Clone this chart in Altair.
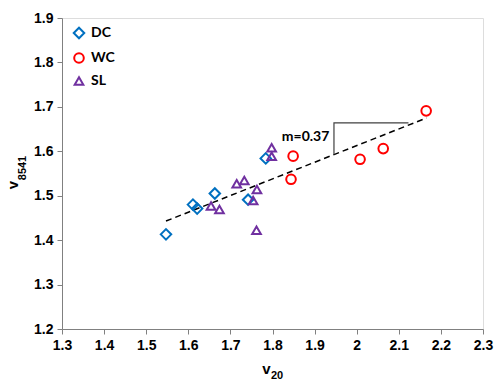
import altair as alt
import pandas as pd

series = ["DC", "WC", "SL"]
colors = ["#0070C0", "#FF0000", "#7030A0"]
shapes = ["diamond", "circle", "triangle-up"]

dc_x = [1.547, 1.611, 1.621, 1.663, 1.742, 1.784]
dc_y = [1.413, 1.480, 1.471, 1.505, 1.491, 1.584]
wc_x = [1.849, 1.844, 2.008, 2.063, 2.165]
wc_y = [1.589, 1.537, 1.582, 1.606, 1.691]
sl_x = [1.798, 1.798, 1.715, 1.733, 1.763, 1.754, 1.654, 1.674, 1.762]
sl_y = [1.608, 1.589, 1.527, 1.534, 1.514, 1.489, 1.477, 1.469, 1.422]

fit_x = [1.547, 2.166]
fit_y = [1.443, 1.675]

slope_x = [1.946, 1.946, 2.123]
slope_y = [1.593, 1.664, 1.664]

label_text = "m=0.37"
label_x = 1.935
label_y = 1.633

x_ticks = [1.3, 1.4, 1.5, 1.6, 1.7, 1.8, 1.9, 2.0, 2.1, 2.2, 2.3]
y_ticks = [1.2, 1.3, 1.4, 1.5, 1.6, 1.7, 1.8, 1.9]

x_title_main, x_title_sub = "v", "20"
y_title_main, y_title_sub = "v", "8541"

rows = []
for name, xs, ys in [("DC", dc_x, dc_y), ("WC", wc_x, wc_y), ("SL", sl_x, sl_y)]:
    for a, b in zip(xs, ys):
        rows.append({"x": a, "y": b, "series": name})
pts = pd.DataFrame(rows)

fit = pd.DataFrame({"x": fit_x, "y": fit_y})
slope = pd.DataFrame({"x": slope_x, "y": slope_y, "o": list(range(len(slope_x)))})
lab = pd.DataFrame({"x": [label_x], "y": [label_y], "t": [label_text]})

xscale = alt.Scale(domain=[1.3, 2.3], nice=False, zero=False)
yscale = alt.Scale(domain=[1.2, 1.9], nice=False, zero=False)

AX = "Liberation Sans"
xaxis = alt.Axis(values=x_ticks, format=".1~f", grid=False, domainColor="#808080",
                 tickColor="#808080", tickSize=5, labelFont=AX, labelFontSize=14,
                 labelFontWeight="bold", labelColor="#000", title=None,
                 labelPadding=4, labelFlush=False)
yaxis = alt.Axis(values=y_ticks, format=".1f", grid=False, domainColor="#808080",
                 tickColor="#808080", tickSize=5, labelFont=AX, labelFontSize=14,
                 labelFontWeight="bold", labelColor="#000", title=None, labelPadding=4)

points = alt.Chart(pts).mark_point(filled=False, strokeWidth=2, opacity=1).encode(
    x=alt.X("x:Q", scale=xscale, axis=xaxis),
    y=alt.Y("y:Q", scale=yscale, axis=yaxis),
    color=alt.Color("series:N", scale=alt.Scale(domain=series, range=colors),
                    legend=alt.Legend(title=None, orient="none", legendX=10, legendY=8,
                                      labelFont="Lato", labelFontSize=14,
                                      labelFontWeight="bold", labelColor="#000",
                                      symbolSize=80, symbolStrokeWidth=2,
                                      rowPadding=6, labelOffset=5)),
    shape=alt.Shape("series:N", scale=alt.Scale(domain=series, range=shapes)),
    size=alt.Size("series:N", scale=alt.Scale(domain=series, range=[110, 75, 95]), legend=None),
)

fitline = alt.Chart(fit).mark_line(color="#000", strokeDash=[6, 4], strokeWidth=1.5).encode(
    x=alt.X("x:Q", scale=xscale), y=alt.Y("y:Q", scale=yscale))

slopeline = alt.Chart(slope).mark_line(color="#404040", strokeWidth=1.2).encode(
    x=alt.X("x:Q", scale=xscale), y=alt.Y("y:Q", scale=yscale), order="o:Q")

text = alt.Chart(lab).mark_text(font="Lato", fontSize=14, fontWeight="bold", align="right",
                                baseline="middle", color="#000").encode(
    x=alt.X("x:Q", scale=xscale), y=alt.Y("y:Q", scale=yscale), text="t:N")

tstyle = dict(font=AX, fontWeight="bold", color="#000", baseline="alphabetic", align="center")
xt_main = alt.Chart(pd.DataFrame({"t": [x_title_main]})).mark_text(fontSize=15, **tstyle).encode(
    x=alt.value(204.5), y=alt.value(356), text="t:N")
xt_sub = alt.Chart(pd.DataFrame({"t": [x_title_sub]})).mark_text(fontSize=11, **tstyle).encode(
    x=alt.value(215), y=alt.value(361), text="t:N")
yt_main = alt.Chart(pd.DataFrame({"t": [y_title_main]})).mark_text(fontSize=15, angle=270, **tstyle).encode(
    x=alt.value(-44), y=alt.value(167), text="t:N")
yt_sub = alt.Chart(pd.DataFrame({"t": [y_title_sub]})).mark_text(fontSize=11, angle=270, **tstyle).encode(
    x=alt.value(-36.5), y=alt.value(150), text="t:N")

chart = alt.layer(fitline, slopeline, points, text, xt_main, xt_sub, yt_main, yt_sub).properties(
    width=421, height=311,
    autosize=alt.AutoSizeParams(type="none"),
    padding={"left": 62, "top": 18, "right": 12, "bottom": 54},
).configure_view(stroke=None).configure(background="white")

chart.save("out.html", embed_options={"renderer": "svg", "actions": False})
